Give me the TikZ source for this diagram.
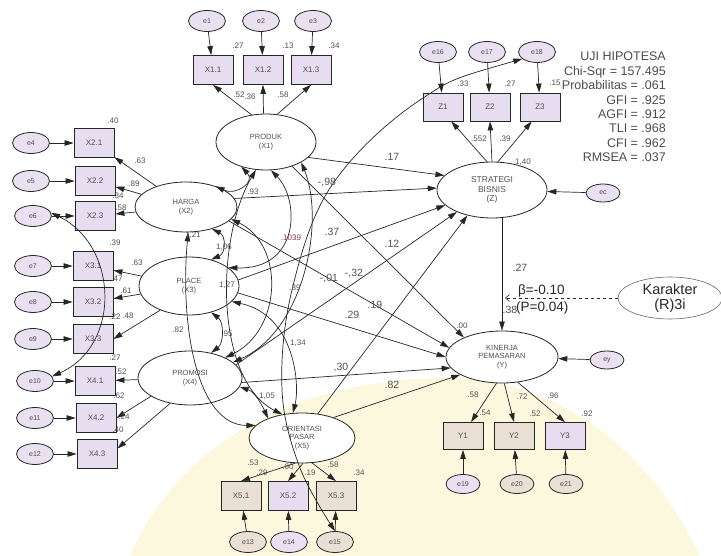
\documentclass[tikz,border=0pt]{standalone}
\usepackage{fontspec}
\setmainfont{Liberation Sans}
\usetikzlibrary{shapes.geometric,arrows.meta,calc}
\definecolor{boxfill}{HTML}{E6DEF0}
\definecolor{errfill}{HTML}{E9E0F2}
\definecolor{beige}{HTML}{EADFD4}
\definecolor{linec}{HTML}{262626}
\definecolor{txt}{HTML}{505050}
\definecolor{wmy}{HTML}{FCF8DE}
\definecolor{redl}{HTML}{8A3A4A}
\begin{document}
\begin{tikzpicture}[x=1pt,y=-1pt,
 lat/.style={ellipse, draw=linec, line width=0.8pt, fill=white, inner sep=0pt, align=center, font=\fontsize{7.5}{8.5}\selectfont, text=txt},
 err/.style={ellipse, draw=linec, line width=0.8pt, fill=errfill, minimum width=37pt, minimum height=21pt, inner sep=0pt, font=\fontsize{7}{8}\selectfont, text=txt},
 obs/.style={rectangle, draw=linec, line width=0.8pt, fill=boxfill, minimum width=40pt, minimum height=29pt, inner sep=0pt, font=\fontsize{8}{9}\selectfont, text=txt},
 lab/.style={font=\fontsize{8}{9}\selectfont, text=txt, inner sep=0pt},
 labL/.style={font=\fontsize{10.5}{11}\selectfont, text=txt, inner sep=0pt},
 arr/.style={draw=linec, line width=0.7pt, -{Triangle[length=9pt,width=5.5pt]}},
 cov/.style={draw=linec, line width=0.7pt, {Triangle[length=9pt,width=5.5pt]}-{Triangle[length=9pt,width=5.5pt]}},
]
\useasboundingbox (0,0) rectangle (721,556);
% faint watermark background
\fill[wmy] (130,556) .. controls (180,440) and (300,378) .. (450,378) .. controls (560,380) and (650,450) .. (700,556) -- cycle;

% ---------- nodes ----------
\node[err] (e1) at (207,21) {e1};
\node[err] (e2) at (261,21) {e2};
\node[err] (e3) at (313,21) {e3};
\node[obs] (X11) at (213,70) {X1.1};
\node[obs] (X12) at (263,70) {X1.2};
\node[obs] (X13) at (311,70) {X1.3};
\node[lat, minimum width=100pt, minimum height=56pt] (PROD) at (266,142) {PRODUK\\(X1)};

\node[err] (e4) at (31,143) {e4};
\node[err] (e5) at (31,181) {e5};
\node[err] (e6) at (33,216) {e6};
\node[obs] (X21) at (94,143) {X2.1};
\node[obs] (X22) at (95,181) {X2.2};
\node[obs] (X23) at (95,216) {X2.3};
\node[lat, minimum width=102pt, minimum height=50pt] (HARGA) at (186,207) {HARGA\\(X2)};

\node[err] (e7) at (33,266) {e7};
\node[err] (e8) at (33,302) {e8};
\node[err] (e9) at (33,339) {e9};
\node[obs] (X31) at (93,266) {X3.1};
\node[obs] (X32) at (93,302) {X3.2};
\node[obs] (X33) at (93,339) {X3.3};
\node[lat, minimum width=100pt, minimum height=58pt] (PLACE) at (189,286) {PLACE\\(X3)};

\node[err] (e10) at (35,381) {e10};
\node[err] (e11) at (35,418) {e11};
\node[err] (e12) at (35,454) {e12};
\node[obs] (X41) at (95,381) {X4.1};
\node[obs] (X42) at (96,418) {X4.2};
\node[obs] (X43) at (97,454) {X4.3};
\node[lat, minimum width=104pt, minimum height=54pt] (PROMO) at (190,378) {PROMOSI\\(X4)};

\node[lat, minimum width=106pt, minimum height=50pt] (ORIENT) at (302,438) {ORIENTASI\\PASAR\\(X5)};
\node[obs, fill=beige] (X51) at (241,496) {X5.1};
\node[obs] (X52) at (288,496) {X5.2};
\node[obs, fill=beige] (X53) at (336,496) {X5.3};
\node[err, fill=beige] (e13) at (248,542) {e13};
\node[err] (e14) at (289,542) {e14};
\node[err, fill=beige] (e15) at (335,542) {e15};

\node[err] (e16) at (438,52) {e16};
\node[err] (e17) at (487,52) {e17};
\node[err] (e18) at (537,52) {e18};
\node[obs, minimum height=28pt] (Z1) at (443,107) {Z1};
\node[obs, minimum height=28pt] (Z2) at (490,107) {Z2};
\node[obs, minimum height=28pt] (Z3) at (540,107) {Z3};
\node[lat, minimum width=110pt, minimum height=56pt, font=\fontsize{8.5}{9.5}\selectfont] (STRAT) at (492,190) {STRATEGI\\BISNIS\\(Z)};
\node[err, minimum width=34pt, minimum height=18pt] (ec) at (603,193) {ec};

\node[lat, minimum width=112pt, minimum height=52pt] (KIN) at (502,357) {KINERJA\\PEMASARAN\\(Y)};
\node[err, minimum width=34pt, minimum height=18pt] (ey) at (607,360) {ey};
\node[obs, fill=beige, minimum height=27pt] (Y1) at (463,436) {Y1};
\node[obs, fill=beige, minimum height=27pt] (Y2) at (514,436) {Y2};
\node[obs, minimum height=27pt] (Y3) at (565,436) {Y3};
\node[err, minimum width=34pt, minimum height=19pt] (e19) at (463,484) {e19};
\node[err, fill=beige, minimum width=34pt, minimum height=19pt] (e20) at (517,484) {e20};
\node[err, fill=beige, minimum width=34pt, minimum height=19pt] (e21) at (566,484) {e21};

\node[ellipse, draw=linec!70, line width=0.6pt, fill=white, minimum width=104pt, minimum height=42pt, inner sep=0pt, align=center, font=\fontsize{14.5}{15.5}\selectfont, text=black!85] (KAR) at (670,298) {Karakter\\(R)3i};

\node[anchor=north east, align=right, inner sep=0pt, font=\fontsize{12.5}{14.4}\selectfont, text=black!70] (UJI) at (666,52) {UJI HIPOTESA\\Chi-Sqr = 157.495\\Probabilitas = .061\\GFI = .925\\AGFI = .912\\TLI = .968\\CFI = .962\\RMSEA = .037};

% ---------- measurement arrows ----------
\foreach \e/\x in {e1/X11,e2/X12,e3/X13,e4/X21,e5/X22,e6/X23,e7/X31,e8/X32,e9/X33,e10/X41,e11/X42,e12/X43,e13/X51,e14/X52,e15/X53,e16/Z1,e17/Z2,e18/Z3,e19/Y1,e20/Y2,e21/Y3}
  \draw[arr] (\e) -- (\x);
\draw[arr] (PROD.118) -- (X11.south);
\draw[arr] (PROD.95) -- (X12.south);
\draw[arr] (PROD.68) -- (X13.south);
\draw[arr] (HARGA) -- (X21);
\draw[arr] (HARGA) -- (X22);
\draw[arr] (HARGA) -- (X23);
\draw[arr] (PLACE) -- (X31);
\draw[arr] (PLACE) -- (X32);
\draw[arr] (PLACE.220) -- (X33.east);
\draw[arr] (PROMO) -- (X41);
\draw[arr] (PROMO.205) -- (X42.east);
\draw[arr] (PROMO.232) -- (X43.15);
\draw[arr] (ORIENT.255) -- (X51.north);
\draw[arr] (ORIENT.272) -- (X52.north);
\draw[arr] (ORIENT.292) -- (X53.north);
\draw[arr] (STRAT.100) -- (Z1.-60);
\draw[arr] (STRAT.90) -- (Z2.south);
\draw[arr] (STRAT.78) -- (Z3.-120);
\draw[arr] (KIN.258) -- (Y1.60);
\draw[arr] (KIN.275) -- (Y2.north);
\draw[arr] (KIN.302) -- (Y3.north);
\draw[arr] (ec) -- (STRAT);
\draw[arr] (ey) -- (KIN);

% ---------- structural arrows ----------
\draw[arr] (PROD.-20) -- (STRAT.163);
\draw[arr] (HARGA.10) -- (STRAT.178);
\draw[arr] (PLACE.7) -- (STRAT.198);
\draw[arr] (PROMO.16) -- (STRAT.212);
\draw[arr] (ORIENT.57) -- (STRAT.226);
\draw[arr] (PROD.-43) -- (KIN.153);
\draw[arr] (HARGA.-18) -- (KIN.170);
\draw[arr] (PLACE.-8) -- (KIN.180);
\draw[arr] (PROMO.-5) -- (KIN.192);
\draw[arr] (ORIENT.33) -- (KIN.203);
\draw[arr, line width=0.6pt] (KIN.north |- STRAT.south) -- (KIN.north);
\coordinate (zy) at (KIN.north |- KAR.west);
\draw[dashed, line width=0.6pt, draw=linec, -{Straight Barb[length=4pt,width=7pt]}] (KAR.west) -- ([xshift=3pt]zy);

% ---------- covariances ----------
\draw[cov] (HARGA.35) .. controls (236,196) and (256,182) .. (PROD.225);
\draw[cov] (HARGA.-40) .. controls (226,236) and (226,253) .. (PLACE.50);
\draw[cov] (PROD.280) .. controls (300,200) and (300,270) .. (PLACE.25);
\draw[cov] (PLACE.-50) .. controls (224,322) and (224,343) .. (PROMO.50);
\draw[cov] (HARGA.-15) .. controls (285,245) and (282,330) .. (PROMO.30);
\draw[cov] (PROD.-30) .. controls (325,220) and (305,330) .. (PROMO.20);
\draw[cov] (PLACE.-20) .. controls (295,315) and (300,385) .. (ORIENT.110);
\draw[cov] (PROMO.-10) .. controls (255,392) and (262,405) .. (ORIENT.150);
\draw[cov] (HARGA.-85) .. controls (180,320) and (195,425) .. (ORIENT.165);
\draw[cov] (PROD.250) .. controls (215,240) and (215,380) .. (ORIENT.130);
\draw[cov] (e6.10) .. controls (118,245) and (122,345) .. (e10.15);
\draw[cov] plot[smooth, tension=0.6] coordinates {(e18.205) (420,100) (332,185) (292,290) (282,390) (300,468) (e15.north)};

% ---------- labels ----------
\node[lab] (l1) at (238,46) {.27};
\node[lab] (l2) at (288,46) {.13};
\node[lab] (l3) at (334,46) {.34};
\node[lab] (l4) at (239,95) {.52};
\node[lab] (l5) at (250,97) {.36};
\node[lab] (l6) at (283,95) {.58};
\node[lab] (l7) at (113,121) {.40};
\node[lab] (l8) at (140,161) {.63};
\node[lab] (l9) at (134,184) {.89};
\node[lab] (l10) at (118,196) {.34};
\node[lab] (l11) at (121,208) {.58};
\node[lab] (l12) at (115,243) {.39};
\node[lab] (l13) at (137,263) {.63};
\node[lab] (l14) at (117,279) {.47};
\node[lab] (l15) at (126,291) {.61};
\node[lab] (l16) at (115,317) {.22};
\node[lab] (l17) at (128,316) {.48};
\node[lab] (l18) at (115,358) {.27};
\node[lab] (l19) at (121,372) {.52};
\node[lab] (l20) at (119,396) {.62};
\node[lab] (l21) at (124,417) {.24};
\node[lab] (l22) at (118,430) {.40};
\node[lab] (l23) at (253,192) {.93};
\node[labL] (l24) at (392,157) {.17};
\node[labL] (l25) at (327,183) {-,98};
\node[lab] (l26) at (193,235) {1,21};
\node[lab] (l27) at (224,247) {1,06};
\node[lab, text=redl] (l28) at (291,238) {.1039};
\node[labL] (l29) at (332,232) {.37};
\node[labL] (l30) at (392,244) {.12};
\node[lab] (l31) at (227,285) {1,27};
\node[lab] (l32) at (295,288) {.39};
\node[labL] (l33) at (329,279) {-,01};
\node[labL] (l34) at (354,274) {-,32};
\node[labL] (l35) at (352,315) {.29};
\node[labL] (l36) at (375,305) {.19};
\node[lab] (l37) at (178,330) {.82};
\node[lab] (l38) at (227,334) {.95};
\node[lab] (l39) at (298,343) {1,34};
\node[labL] (l40) at (341,368) {,30};
\node[lab] (l41) at (267,396) {1,05};
\node[labL] (l42) at (392,385) {.82};
\node[lab] (l43) at (462,326) {.00};
\node[labL] (l44) at (520,268) {.27};
\node[labL] (l45) at (510,310) {.38};
\node[lab] (l46) at (479,139) {.552};
\node[lab] (l47) at (505,139) {.39};
\node[lab] (l48) at (523,162) {1,40};
\node[lab] (l49) at (463,84) {.33};
\node[lab] (l50) at (510,84) {.27};
\node[lab] (l51) at (555,83) {.15};
\node[lab] (l52) at (473,395) {.58};
\node[lab] (l53) at (485,413) {.54};
\node[lab] (l54) at (522,397) {.72};
\node[lab] (l55) at (535,414) {.52};
\node[lab] (l56) at (553,396) {.96};
\node[lab] (l57) at (587,414) {.92};
\node[lab] (l58) at (253,463) {.53};
\node[lab] (l59) at (262,473) {.29};
\node[lab] (l60) at (288,467) {.60};
\node[lab] (l61) at (310,473) {.19};
\node[lab] (l62) at (333,465) {.58};
\node[lab] (l63) at (359,473) {.34};
\node[anchor=west, inner sep=0pt, font=\fontsize{13.5}{14}\selectfont, text=black!85] (beta) at (518,291) {β=-0.10};
\node[anchor=west, inner sep=0pt, font=\fontsize{13.5}{14}\selectfont, text=black!85] (pval) at (516,308) {(P=0.04)};
\end{tikzpicture}
\end{document}
